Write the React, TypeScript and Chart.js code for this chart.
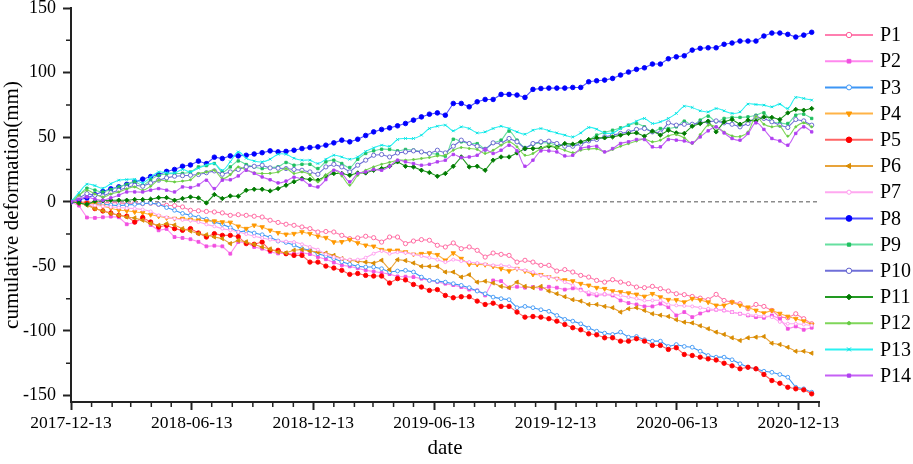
import React, { useEffect, useRef } from 'react';
import { Chart, registerables } from 'chart.js';

Chart.register(...registerables);

const startDate = '2017-12-13';
const endDate = '2021-01-13';
const xTickLabels = ['2017-12-13', '2018-06-13', '2018-12-13', '2019-06-13', '2019-12-13', '2020-06-13', '2020-12-13'];
const yTicks = [-150, -100, -50, 0, 50, 100, 150];
const yMinorTicks = [-125, -75, -25, 25, 75, 125];
const seriesNames = ['P1', 'P2', 'P3', 'P4', 'P5', 'P6', 'P7', 'P8', 'P9', 'P10', 'P11', 'P12', 'P13', 'P14'];

// Sentinel-1 style revisit: one acquisition every 12 days from the start date
const acquisitionDays = Array.from({ length: 94 }, (_, i) => i * 12);

const p1 = [0, -0.5, 0, -0.5, -1, -0.5, -1, -1.5, -1, -1.5, -1.2, -2, -2.7, -3, -4, -6.6, -7, -7.5, -7.9, -8.6, -10.5, -10, -10.5, -11.2, -11.8, -14.3, -16, -17.4, -18.2, -19.5, -20.8, -23.4, -23, -23.4, -26, -28.5, -28, -26.7, -27.8, -31.2, -27.3, -27.3, -32.4, -30.4, -29.3, -29.8, -33.7, -35, -31.9, -36.3, -35, -37.6, -42.8, -39.7, -40.7, -41.5, -46.7, -45.3, -46.7, -49.2, -49.2, -53.6, -52.5, -54.4, -57, -58.3, -60.9, -62.2, -60.3, -62.2, -63.4, -66, -66.5, -65.5, -67.3, -69.1, -71.2, -71.9, -73.3, -74.6, -75.8, -71.7, -76.4, -77.7, -78.9, -82.8, -79.5, -81, -84.1, -89.3, -89.8, -86.7, -90.5, -94.4];
const p2 = [0, -3, -12.2, -12.5, -12, -11.5, -12, -17.4, -16, -13, -18, -22.1, -21, -27.3, -28, -29, -31, -34.5, -34, -34.5, -40.2, -31.2, -31.5, -35, -36.3, -38.9, -40, -40, -40.2, -39.5, -40.5, -42.8, -44.5, -47, -49.2, -50, -51.5, -53.1, -54, -55, -56, -57.8, -58, -58.3, -59.5, -60.9, -62, -63.4, -64.5, -66, -68, -68.6, -72.5, -60.9, -61.4, -66.5, -65.8, -66.5, -66, -67.3, -65.8, -66.5, -68, -67, -68, -71.7, -72.5, -71.7, -72.5, -76.4, -78.4, -79.5, -81, -81, -78.9, -81.6, -88, -85.4, -89.3, -86.5, -84.1, -83.6, -84.1, -85.4, -86.7, -88, -89.3, -89.8, -88, -90.5, -98.3, -96.5, -99.1, -97.5];
const p3 = [0, -0.5, -1, -1.5, -1.9, -2.5, -3, -2.5, -2, -1.4, -1, -2, -4.5, -6.6, -9, -10.5, -12, -13.5, -15.7, -17.5, -20, -23.4, -22.5, -24.2, -25.5, -27.5, -30.4, -31.5, -33.5, -36.3, -37.5, -40.2, -42, -44, -46.5, -48.4, -50, -50.5, -50.5, -51.8, -54.4, -53.6, -53.1, -54.4, -58.3, -60.9, -61.4, -62.2, -63.4, -64.7, -66.5, -69.1, -71.2, -73.8, -75, -75.8, -82, -81, -82, -83.6, -84.8, -88, -91, -92.4, -94.5, -97.8, -100.2, -101.7, -102.7, -100.9, -104.8, -104.3, -106.8, -107.9, -107.9, -112, -110.5, -112, -112.6, -115.7, -119, -120.3, -120.3, -122.3, -125.4, -128.1, -129.3, -131.2, -132, -133.7, -135.8, -143.6, -144.8, -147.4];
const p4 = [0, -0.5, -1, -1.4, -3.5, -5, -6.6, -7, -7.9, -8.5, -10, -11.2, -12.5, -13, -13, -13.8, -14.3, -14.9, -15, -15.7, -16, -19, -20.8, -18.2, -19.5, -22.1, -24, -25.2, -24.7, -23.4, -24.7, -26.7, -27.8, -31.2, -31, -29.3, -31.9, -33.7, -34.5, -37.1, -37.6, -37.6, -38.9, -40.7, -40.2, -39.7, -41, -45.3, -39.7, -44, -48.4, -48.5, -48.7, -50, -51.8, -53.6, -51.8, -53.6, -56.2, -56.5, -58.3, -59.5, -60.6, -61.4, -63.4, -64.7, -66.5, -67.3, -69.1, -69.8, -70.7, -71.7, -73.3, -71.2, -73.8, -75.8, -76, -77.7, -75, -76, -77.7, -80.2, -80.2, -77.7, -80.2, -81.6, -84.1, -86.2, -84.1, -86.5, -88.8, -90.5, -92.4, -95];
const p5 = [0, -0.8, -1.4, -5.3, -7.1, -8.7, -10.5, -11.2, -15.7, -12.2, -15.7, -19.5, -18.2, -20.8, -22.1, -20.8, -24.2, -27.3, -24.7, -26, -26, -27, -32.4, -32.9, -31.2, -37.6, -37.6, -40.2, -41.5, -41.5, -46.7, -46.7, -49.8, -51.3, -53.1, -56.2, -55.5, -57, -57.5, -57.5, -62.9, -59.5, -60.5, -64, -66, -68.6, -68, -72.5, -74.3, -73.5, -73.5, -76.9, -79.5, -78.5, -81, -81, -85.4, -89.3, -88.8, -89.3, -90.5, -92.4, -95, -97.5, -99.1, -102.2, -103, -105.3, -105.3, -107.9, -107.9, -106, -107.9, -111.2, -111.2, -114.3, -113, -118.2, -119, -120.3, -121.6, -122.5, -125, -127, -129.3, -128.1, -129.3, -133.7, -138.4, -140.5, -143.6, -144.8, -145.6, -148.7];
const p6 = [0, -1, -2.7, -5.3, -7, -9.1, -10.5, -11.8, -12.5, -14.3, -16.9, -18.2, -17, -18, -20.8, -22.7, -24.7, -25.5, -27.3, -28.5, -32.4, -30, -31, -33, -35, -36.5, -38.9, -39.5, -37.5, -37, -38.1, -39, -39.7, -41.5, -44, -45.3, -46, -46.7, -47.5, -45.3, -52.6, -44.8, -45.5, -47.4, -50, -50, -50, -54.4, -54.4, -58.3, -56.5, -62.2, -61.5, -62.9, -65.5, -66.5, -62.2, -65.5, -66.5, -65.5, -69.1, -71.2, -73.5, -75.8, -76.9, -79.5, -79.5, -81, -82, -85.4, -82.8, -82, -84.1, -86.7, -87.8, -88.8, -91.3, -93.2, -93.8, -96, -98.3, -100.9, -102.7, -105.3, -107.4, -105.3, -104.8, -104.3, -109.5, -110.5, -112.6, -115.7, -115.7, -117.2];
const p7 = [0, -1, -2, -2.7, -3.5, -4, -4.5, -5, -5.3, -6, -7.5, -10.5, -12, -13, -14, -14.5, -15.7, -17.5, -19, -20.8, -22, -23.4, -25, -26.7, -28, -29.3, -30.4, -30.8, -31.2, -32.9, -35, -37.1, -40.7, -42.8, -44, -44.8, -44.8, -43.3, -40.2, -38.1, -40.2, -39, -39.5, -40.7, -42, -43.3, -44.8, -46.7, -44.8, -45.9, -46.7, -47.4, -48.3, -49.2, -49.2, -50, -51.8, -53, -54.4, -57, -58.3, -59.5, -62.2, -64.7, -68.6, -70, -71.2, -71.5, -71.7, -72.5, -73.8, -75, -76.4, -76.4, -76.4, -79.5, -80.2, -80.6, -81, -82, -82.8, -83.5, -84.1, -85.4, -86.7, -87.4, -88, -88.6, -89.3, -93, -94.4, -94.4, -95, -95.7];
const p8 = [0, 1.5, 3, 5.5, 8, 10, 11.5, 13.5, 15.5, 17.5, 19.5, 21, 23.5, 25, 27.5, 28.5, 31.5, 29.5, 34.5, 33.5, 35.5, 35.5, 36, 37, 38, 39.4, 38.6, 39, 39.9, 41.2, 42, 42.5, 43.8, 45.6, 47.7, 46.4, 48.4, 51.3, 54.1, 56, 57.2, 58.8, 60.6, 63.2, 65.7, 67.8, 68.8, 67, 76.1, 76.1, 73.5, 77.4, 79.2, 79.2, 83.1, 83.1, 82.6, 80.8, 87, 87.7, 88, 88, 88, 88.5, 88.5, 92.9, 93.7, 94.2, 95.5, 98.1, 100.4, 102.5, 103.7, 106.6, 106.6, 110.7, 112.2, 113, 117.4, 118.8, 119.2, 119.2, 121.9, 122.9, 124.4, 124.4, 124.4, 128.3, 130.6, 130.6, 129.6, 127.5, 129, 131.2];
const p9 = [0, 5, 10.5, 9, 7.6, 9.5, 11.5, 13.5, 15.4, 12.8, 17, 20.5, 21.5, 21.9, 22, 23, 27, 28, 29.6, 23.1, 27, 31.6, 28.8, 27, 25.7, 26.5, 27, 30.4, 28.3, 29, 29, 25.7, 30.9, 32.2, 29.6, 26.5, 32.9, 37.4, 39.4, 40.7, 40.5, 39.4, 40.5, 40, 38.6, 37.4, 36.8, 35.3, 48.4, 46.4, 45.1, 45, 41.2, 45.6, 47.7, 54.7, 47.7, 42, 44.6, 45.6, 45.5, 43.8, 44, 43.8, 45, 47.7, 51.6, 53.6, 55.4, 57.2, 59.3, 60.6, 58, 54.1, 56.7, 56.7, 58, 62.4, 59.3, 63.2, 66.3, 61.9, 64.5, 65.3, 65.3, 65.7, 67, 68.8, 61.9, 61.1, 60.6, 67, 67.8, 64.5];
const p10 = [0, 3, 6.3, 5, 4.5, 7, 8.9, 11, 12.8, 12, 14.5, 16.7, 18.5, 19.8, 20.2, 20.5, 21.1, 22.5, 23.9, 21.3, 23.1, 25, 27, 27.5, 28.3, 26.2, 26, 25.7, 25, 24.4, 23.1, 21.3, 27, 29, 27, 23.1, 28.3, 32.2, 36, 36.6, 34.7, 37.8, 38.6, 39.4, 38.6, 37.4, 39.9, 37.8, 43, 47.7, 45.1, 43, 40.5, 45.6, 45.1, 49, 46.4, 41.2, 45.1, 46.4, 46.9, 45.1, 43, 43, 44.6, 47.1, 48.2, 50.2, 51.6, 52.9, 54.1, 56, 56.7, 54.1, 53.3, 61.1, 59.3, 60, 60, 61.1, 61.9, 62.6, 61.1, 60, 58, 60.6, 65.7, 64.5, 61.9, 59.3, 57.5, 63.7, 62.6, 59.3];
const p11 = [0, -1, -2, 0.4, 0.8, 1.2, 1.2, 1.2, 1.7, 1.7, 2, 3.2, 3.2, 1.2, 2.5, 3.7, 3, -0.9, 5.6, 2.5, 4.5, 4.3, 8.9, 9.7, 9.7, 8.4, 10.2, 12.8, 15.5, 18, 17.2, 16.7, 20, 21.9, 21.9, 20.5, 22.3, 22.3, 24.4, 25.7, 27.5, 30.9, 27.5, 27, 24.4, 22.6, 19.8, 21.9, 27.5, 34.7, 27, 27.5, 24.4, 32.2, 34.7, 34.7, 37.8, 41.2, 41.2, 41.5, 43, 42, 45.1, 44.6, 46.4, 48.2, 49.5, 49.5, 50.2, 51.6, 52.9, 53.3, 50.8, 54.7, 51.6, 55.4, 53.3, 52.9, 58.5, 60.6, 62.4, 54.1, 61.9, 63.7, 60, 63.2, 62.6, 65.7, 65.3, 63.7, 68.8, 71.5, 70.9, 72.2];
const p12 = [0, 5, 8.9, 6, 3.7, 6, 7.6, 10, 11.5, 8.9, 12, 16.7, 16, 15.4, 16, 17, 21.9, 23, 24.4, 18, 21, 27, 24.4, 22.5, 21.9, 22, 23, 25.7, 21.9, 23.1, 21, 15.4, 20.5, 24.4, 20, 12.8, 20.5, 24.4, 27, 29, 30.5, 32.2, 32.2, 32.7, 33.5, 34.3, 35.5, 36, 39.9, 42, 41.2, 40.5, 37.4, 39.9, 43.8, 46.4, 42.5, 36, 37.4, 41.2, 43.8, 42, 39.9, 38, 39.9, 40.8, 41, 38.6, 40.5, 43, 45, 47, 48.5, 46.4, 47.7, 51, 52, 49.5, 45.1, 52, 59.3, 58, 54, 51, 50.5, 54, 66, 60, 58, 58.5, 50.8, 58, 61.1, 58];
const p13 = [0, 7, 13.6, 12.5, 10.5, 14, 16.7, 17.2, 17.4, 14.6, 19, 23.1, 22.5, 22.3, 25, 23.1, 26, 28.5, 29.6, 24.4, 31, 38.6, 33.7, 31.5, 30.9, 33, 36.8, 36.8, 33.7, 32.2, 32.2, 29.6, 32.9, 36, 34.7, 32.9, 34.7, 39, 41.7, 43.8, 43, 48.2, 49, 49, 51.6, 56.7, 58.5, 59.3, 54.9, 58, 56.7, 53.3, 54.1, 56.7, 58.5, 56.7, 54.1, 52.3, 55.4, 56.7, 54.9, 53.3, 51.6, 50.2, 53.3, 57.5, 56.2, 53.3, 53.3, 56.7, 59.3, 62.4, 64.5, 60.6, 61.9, 64.5, 68.4, 74, 73, 70.4, 69.6, 72.2, 70.4, 68.4, 69.6, 75.6, 75.3, 74.8, 73.5, 75.6, 72.2, 80.8, 80, 78.7];
const p14 = [0, 2, 3.7, 2, 1.2, 3, 5, 7.6, 7.6, 7.6, 9, 10.2, 9, 7.6, 11.5, 11, 13, 16.7, 10.2, 16.7, 17, 20, 24.4, 22, 19.2, 17, 14.6, 16, 19, 17.2, 12.8, 11.5, 17.2, 24.4, 21.9, 15.4, 21.9, 23.1, 25, 24.4, 27.5, 32.2, 30.9, 29.6, 28.3, 29, 30.9, 32.2, 36.6, 34.3, 34.7, 36, 40.5, 37.4, 39.9, 43.8, 39.4, 27.5, 32.2, 39.4, 39.4, 38.6, 35.5, 36, 41.2, 42.5, 43, 38.6, 41.2, 45.1, 46.4, 48.2, 48.2, 42.5, 42.5, 48.2, 47.7, 47.1, 45.6, 50.2, 54.9, 58, 53.3, 49, 47.7, 52.9, 61.1, 56, 49, 47.1, 43.8, 52.9, 58, 54.1];

const allSeries = [p1, p2, p3, p4, p5, p6, p7, p8, p9, p10, p11, p12, p13, p14];

// styling per series (Origin-like palette)
const lineColors = ['#ff7fb0', '#ff88ee', '#3d96f5', '#ffb347', '#ff6464', '#e8a33a', '#ffa8f0', '#5050ff', '#66e0a0', '#6f6fd8', '#229922', '#7fd65a', '#2af2f2', '#c561f5'];
const markerColors = ['#ff5c99', '#f050e0', '#3d96f5', '#ff9900', '#ff0000', '#d98c00', '#ff99ee', '#0000ff', '#1fc060', '#5f5fcc', '#007a00', '#66cc44', '#00dede', '#b040f0'];
const markerStyles = ['circle', 'rect', 'circle', 'triangle', 'circle', 'triangle', 'circle', 'circle', 'rect', 'circle', 'rectRot', 'circle', 'crossRot', 'rect'];
const markerRotations = [0, 0, 0, 180, 0, 270, 0, 0, 0, 0, 0, 0, 0, 0];
const markerRadius = [2.1, 2, 1.9, 2.6, 2.2, 2.4, 1.5, 2.3, 1.7, 2.1, 2.2, 1, 1.9, 1.7];
const hollow = [true, false, true, false, false, false, true, false, false, true, false, false, false, false];
const smooth = [false, false, false, false, false, false, true, false, true, false, false, true, true, true];

const FONT = "'Liberation Serif', 'Times New Roman', serif";

const dayOf = (s: string) => (Date.parse(s + 'T00:00:00Z') - Date.parse(startDate + 'T00:00:00Z')) / 86400000;
const X_MAX = dayOf(endDate);
const majorDays = xTickLabels.map(dayOf);
const monthDays: number[] = [];
for (let m = 1; m < 60; m++) {
  const d = (Date.UTC(2017, 11 + m, 13) - Date.UTC(2017, 11, 13)) / 86400000;
  if (d > X_MAX) break;
  monthDays.push(d);
}

function drawMarker(ctx: CanvasRenderingContext2D, k: number, x: number, y: number) {
  const r = markerRadius[k] + 0.6;
  ctx.save();
  ctx.translate(x, y);
  ctx.rotate((markerRotations[k] * Math.PI) / 180);
  ctx.fillStyle = hollow[k] ? '#fff' : markerColors[k];
  ctx.strokeStyle = markerColors[k];
  ctx.lineWidth = 1;
  ctx.beginPath();
  const style = markerStyles[k];
  if (style === 'rect') {
    const s = r * Math.SQRT1_2;
    ctx.rect(-s, -s, 2 * s, 2 * s);
  } else if (style === 'rectRot') {
    ctx.moveTo(0, -r); ctx.lineTo(r, 0); ctx.lineTo(0, r); ctx.lineTo(-r, 0); ctx.closePath();
  } else if (style === 'triangle') {
    ctx.moveTo(0, -r); ctx.lineTo(r * 0.87, r * 0.5); ctx.lineTo(-r * 0.87, r * 0.5); ctx.closePath();
  } else if (style === 'crossRot') {
    const s = r * 0.8;
    ctx.moveTo(-s, -s); ctx.lineTo(s, s); ctx.moveTo(s, -s); ctx.lineTo(-s, s);
    ctx.stroke();
    ctx.restore();
    return;
  } else {
    ctx.arc(0, 0, r, 0, Math.PI * 2);
  }
  ctx.fill();
  ctx.stroke();
  ctx.restore();
}

const extrasPlugin = {
  id: 'extras',
  // eslint-disable-next-line @typescript-eslint/no-explicit-any
  beforeDatasetsDraw(chart: any) {
    const { ctx, chartArea, scales } = chart;
    const y0 = scales.y.getPixelForValue(0);
    ctx.save();
    ctx.strokeStyle = '#8c8c8c';
    ctx.lineWidth = 1.5;
    ctx.setLineDash([4, 3]);
    ctx.beginPath();
    ctx.moveTo(chartArea.left, y0);
    ctx.lineTo(chartArea.right, y0);
    ctx.stroke();
    ctx.restore();
  },
  // eslint-disable-next-line @typescript-eslint/no-explicit-any
  afterDraw(chart: any) {
    const { ctx, chartArea, scales } = chart;
    ctx.save();
    // minor ticks, monthly on x and every 25 mm on y
    ctx.strokeStyle = '#222';
    ctx.lineWidth = 1.5;
    ctx.beginPath();
    monthDays.forEach((d) => {
      if (majorDays.includes(d)) return;
      const px = scales.x.getPixelForValue(d);
      ctx.moveTo(px, chartArea.bottom);
      ctx.lineTo(px, chartArea.bottom + 5);
    });
    yMinorTicks.forEach((v) => {
      const py = scales.y.getPixelForValue(v);
      ctx.moveTo(chartArea.left, py);
      ctx.lineTo(chartArea.left - 5, py);
    });
    ctx.stroke();

    // legend: line sample with marker, then the name
    const lx = chartArea.right + 6;
    ctx.font = `20px ${FONT}`;
    ctx.textBaseline = 'middle';
    ctx.textAlign = 'left';
    seriesNames.forEach((name, k) => {
      const ly = 35 + k * 26.2;
      ctx.strokeStyle = lineColors[k];
      ctx.lineWidth = 2;
      ctx.beginPath();
      ctx.moveTo(lx, ly);
      ctx.lineTo(lx + 48, ly);
      ctx.stroke();
      drawMarker(ctx, k, lx + 24, ly);
      ctx.fillStyle = '#000';
      ctx.fillText(name, lx + 55, ly + 1);
    });
    ctx.restore();
  },
};

const App: React.FC = () => {
  const canvasRef = useRef<HTMLCanvasElement | null>(null);
  const chartRef = useRef<Chart | null>(null);

  useEffect(() => {
    if (!canvasRef.current) return;
    if (chartRef.current) chartRef.current.destroy();

    Chart.defaults.font.family = FONT;
    Chart.defaults.color = '#000';

    chartRef.current = new Chart(canvasRef.current, {
      type: 'line',
      data: {
        datasets: seriesNames.map((name, k) => ({
          label: name,
          data: allSeries[k].map((v, i) => ({ x: acquisitionDays[i], y: v })),
          borderColor: lineColors[k],
          borderWidth: 1.1,
          pointStyle: markerStyles[k],
          pointRotation: markerRotations[k],
          pointRadius: markerRadius[k],
          pointBackgroundColor: hollow[k] ? '#ffffff' : markerColors[k],
          pointBorderColor: markerColors[k],
          pointBorderWidth: 0.9,
          tension: smooth[k] ? 0.35 : 0,
          fill: false,
          order: 14 - k,
        })),
      },
      options: {
        animation: false,
        responsive: true,
        maintainAspectRatio: false,
        layout: { padding: { left: 0, top: 8, right: 94, bottom: 0 } },
        plugins: {
          legend: { display: false },
          tooltip: { enabled: false },
        },
        scales: {
          x: {
            type: 'linear',
            min: 0,
            max: X_MAX,
            // eslint-disable-next-line @typescript-eslint/no-explicit-any
            afterBuildTicks: (axis: any) => {
              axis.ticks = majorDays.map((v) => ({ value: v }));
            },
            // eslint-disable-next-line @typescript-eslint/no-explicit-any
            afterFit: (axis: any) => {
              axis.height = 62;
              axis.paddingLeft = 0;
              axis.paddingRight = 0;
            },
            ticks: {
              autoSkip: false,
              maxRotation: 0,
              padding: 3,
              color: '#000',
              font: { size: 17.5 },
              callback: (v: number | string) => xTickLabels[majorDays.indexOf(Number(v))] ?? '',
            },
            grid: { drawOnChartArea: false, drawTicks: true, tickLength: 8, tickWidth: 2, tickColor: '#222' },
            border: { display: true, color: '#222', width: 2 },
            title: { display: true, text: 'date', color: '#000', font: { size: 21 }, padding: { top: 0, bottom: 3 } },
          },
          y: {
            min: -155,
            max: 150,
            // eslint-disable-next-line @typescript-eslint/no-explicit-any
            afterBuildTicks: (axis: any) => {
              axis.ticks = yTicks.map((v) => ({ value: v }));
            },
            // eslint-disable-next-line @typescript-eslint/no-explicit-any
            afterFit: (axis: any) => {
              axis.width = 71;
              axis.paddingTop = 0;
              axis.paddingBottom = 0;
            },
            ticks: { padding: 7, color: '#000', font: { size: 18 } },
            grid: { drawOnChartArea: false, drawTicks: true, tickLength: 8, tickWidth: 2, tickColor: '#222' },
            border: { display: true, color: '#222', width: 2 },
            title: {
              display: true,
              text: 'cumulative deformation(mm)',
              color: '#000',
              font: { size: 21 },
              padding: { top: 0, bottom: 0 },
            },
          },
        },
      },
      plugins: [extrasPlugin],
    });

    return () => {
      if (chartRef.current) {
        chartRef.current.destroy();
        chartRef.current = null;
      }
    };
  }, []);

  return (
    <div style={{ position: 'absolute', left: 0, top: 0, width: 913, height: 464, background: '#fff' }}>
      <canvas ref={canvasRef}></canvas>
    </div>
  );
};

export default App;
